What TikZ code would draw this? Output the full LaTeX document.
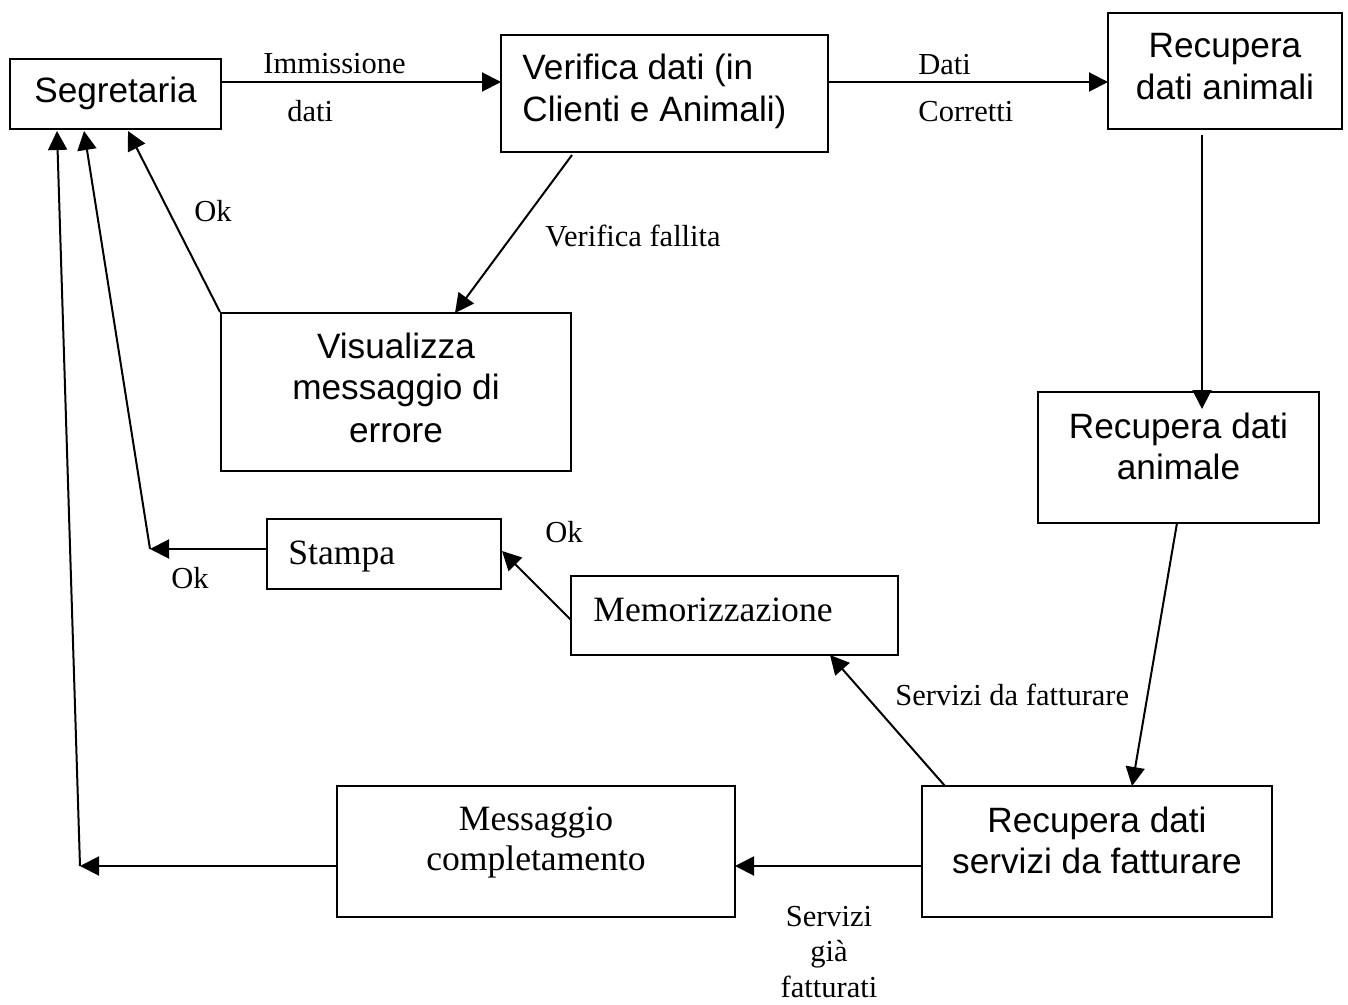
\documentclass[tikz,border=0pt]{standalone}
\usepackage{fontspec}
\setmainfont{Liberation Serif}
\newfontfamily\arialf{Liberation Sans}
\usetikzlibrary{arrows.meta,fit}
\begin{document}
\begin{tikzpicture}[x=0.5pt,y=-0.5pt,
  box/.style={draw, line width=1pt, inner sep=0pt},
  atext/.style={font=\arialf\fontsize{17.6}{21}\selectfont, inner sep=0pt, align=center, anchor=base},
  ttext/.style={font=\fontsize{17.8}{20}\selectfont, inner sep=0pt, align=center, anchor=base},
  lab/.style={font=\fontsize{15.25}{17.75}\selectfont, inner sep=0pt, align=center, anchor=base},
  conn/.style={line width=1pt, -{Triangle[length=9.5pt,width=9.5pt]}}]
\useasboundingbox (0,0) rectangle (1348,1005);

% boxes
\node[box, fit={(10,59) (221,129)}] (seg) {};
\node[box, fit={(501,35) (828,152)}] (ver) {};
\node[box, fit={(1108,13) (1342,129)}] (rda) {};
\node[box, fit={(221,313) (571,471)}] (vis) {};
\node[box, fit={(1038,392) (1319,523)}] (rdan) {};
\node[box, fit={(267,519) (501,589)}] (sta) {};
\node[box, fit={(571,576) (898,655)}] (mem) {};
\node[box, fit={(337,786) (735,917)}] (msg) {};
\node[box, fit={(922,786) (1272,917)}] (rds) {};

% box texts (multi-line nodes: base anchor = last line's baseline)
\node[atext] (segT) at (115.5,103) {Segretaria};
\node[atext, align=left, anchor=base west] (verT) at (522,122) {Verifica dati (in\\Clienti e Animali)};
\node[atext] (rdaT) at (1225,100) {Recupera\\dati animali};
\node[atext] (visT) at (396,442) {Visualizza\\messaggio di\\errore};
\node[atext, font=\arialf\fontsize{17.6}{20.5}\selectfont] (rdanT) at (1178.5,479) {Recupera dati\\animale};
\node[ttext, anchor=base west] (staT) at (288,564) {Stampa};
\node[ttext, anchor=base west] (memT) at (593,621) {Memorizzazione};
\node[ttext] (msgT) at (536,870) {Messaggio\\completamento};
\node[atext, font=\arialf\fontsize{17.6}{20.5}\selectfont] (rdsT) at (1097,873) {Recupera dati\\servizi da fatturare};

% connector labels
\node[lab, anchor=base west] (l1) at (263,74) {Immissione};
\node[lab, anchor=base west] (l2) at (287,122) {dati};
\node[lab, anchor=base west] (l3) at (918,75) {Dati};
\node[lab, anchor=base west] (l4) at (918,122) {Corretti};
\node[lab, anchor=base west] (l5) at (545,247) {Verifica fallita};
\node[lab, anchor=base west] (l6) at (194,222) {Ok};
\node[lab, anchor=base west] (l7) at (545,542) {Ok};
\node[lab, anchor=base west] (l8) at (171,588) {Ok};
\node[lab, anchor=base west] (l9) at (895,705) {Servizi da fatturare};
\node[lab] (l10) at (829,997) {Servizi\\già\\fatturati};

% connector end points
\coordinate (segE) at (221,82);
\coordinate (verW) at (501,82);
\coordinate (verE) at (828,82);
\coordinate (rdaW) at (1108,82);
\coordinate (verS) at (572,155);
\coordinate (visN) at (455,313);
\coordinate (rdaS) at (1202,135);
\coordinate (rdanN) at (1202,409);
\coordinate (rdanS) at (1177,523);
\coordinate (rdsN) at (1132,786);
\coordinate (rdsNW) at (945,786);
\coordinate (memS) at (830,655);
\coordinate (rdsW) at (922,866);
\coordinate (msgE) at (735,866);
\coordinate (memW) at (571,620);
\coordinate (staE) at (502,551);
\coordinate (staW) at (267,549);
\coordinate (k1) at (150,549);
\coordinate (msgW) at (337,866);
\coordinate (k2) at (80,866);
\coordinate (segS1) at (57,131);
\coordinate (segS2) at (84,131);
\coordinate (segS3) at (128,131);

% connectors
\draw[conn] (segE) -- (verW);
\draw[conn] (verE) -- (rdaW);
\draw[conn] (verS) -- (visN);
\draw[conn] (rdaS) -- (rdanN);
\draw[conn] (rdanS) -- (rdsN);
\draw[conn] (rdsNW) -- (memS);
\draw[conn] (rdsW) -- (msgE);
\draw[conn] (memW) -- (staE);
\draw[conn] (staW) -- (k1);
\draw[conn] (k1) -- (segS2);
\draw[conn] (msgW) -- (k2);
\draw[conn] (k2) -- (segS1);
\draw[conn] (vis.north west) -- (segS3);
\end{tikzpicture}
\end{document}
